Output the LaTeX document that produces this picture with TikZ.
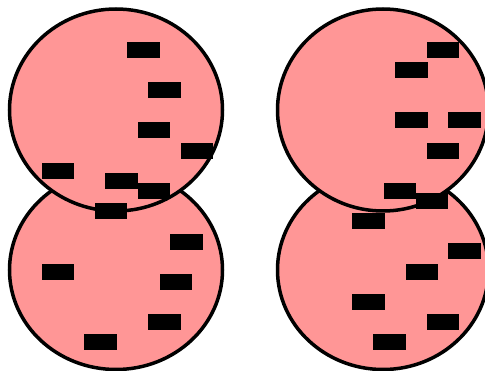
\documentclass[tikz,border=0pt]{standalone}
\definecolor{cellpink}{RGB}{255,150,150}
\tikzset{
  cell/.style={draw=black, fill=cellpink, line width=3.5pt},
  blob/.style={rectangle, fill=black, draw=none, inner sep=0pt, minimum width=32.5pt, minimum height=15.7pt},
}
\begin{document}
\begin{tikzpicture}[x=1pt,y=-1pt]
\useasboundingbox (0,0) rectangle (485,371);
% bottom cells
\draw[cell] (116,270) ellipse [x radius=106.5, y radius=99.5];
\draw[cell] (383,270) ellipse [x radius=105.5, y radius=99.5];
% top cells
\draw[cell] (116,110) ellipse [x radius=106.5, y radius=101];
\draw[cell] (383,110) ellipse [x radius=105.5, y radius=101];
% left column rectangles
\node[blob] (l1) at (143.5,50) {};
\node[blob] (l2) at (164.5,90) {};
\node[blob] (l3) at (154,130) {};
\node[blob] (l4) at (197,151) {};
\node[blob] (l5) at (58,171) {};
\node[blob] (l6) at (121.5,181) {};
\node[blob] (l7) at (154,191) {};
\node[blob] (l8) at (111,211) {};
\node[blob] (la) at (186.5,242) {};
\node[blob] (lb) at (58,272) {};
\node[blob] (lc) at (176,282) {};
\node[blob] (ld) at (164.5,322) {};
\node[blob] (le) at (100.5,342) {};
% right column rectangles
\node[blob] (r1) at (443,50) {};
\node[blob] (r2) at (411.5,70) {};
\node[blob] (r3) at (411.5,120) {};
\node[blob] (r4) at (464.5,120) {};
\node[blob] (r5) at (443,151) {};
\node[blob] (r6) at (400,191) {};
\node[blob] (r7) at (432,201) {};
\node[blob] (r8) at (368.5,221) {};
\node[blob] (ra) at (464.5,251) {};
\node[blob] (rb) at (422,272) {};
\node[blob] (rc) at (368.5,302) {};
\node[blob] (rd) at (443,322) {};
\node[blob] (re) at (389.5,342) {};
\end{tikzpicture}
\end{document}
